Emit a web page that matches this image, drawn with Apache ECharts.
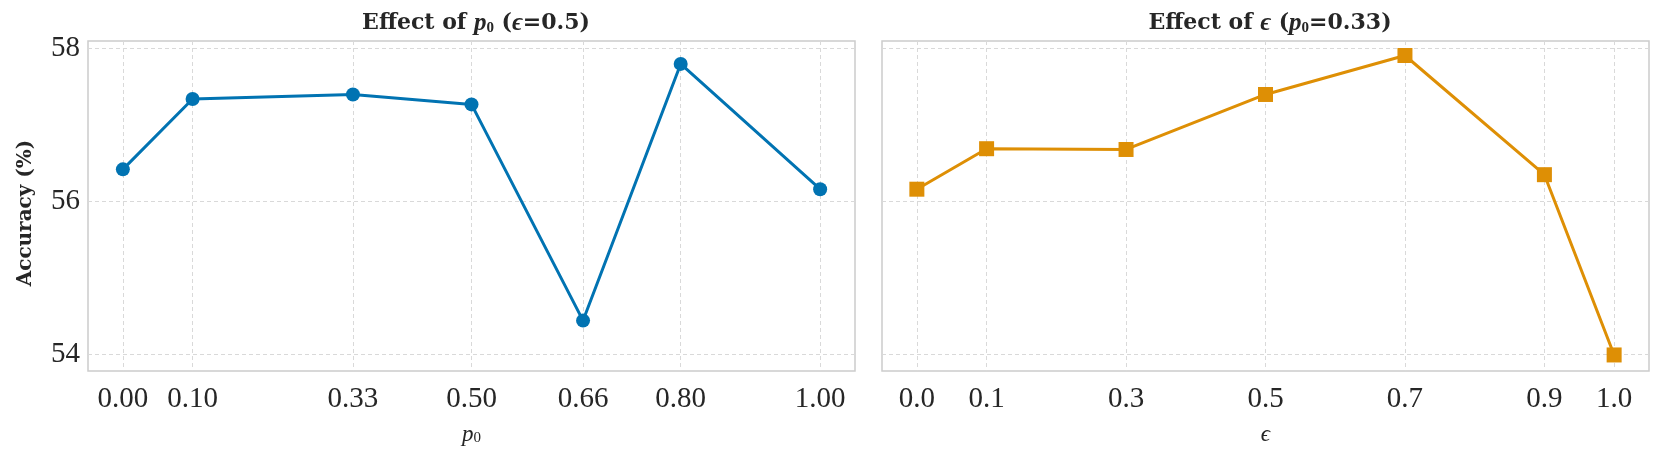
<!DOCTYPE html>
<html>
<head>
<meta charset="utf-8">
<script src="https://cdn.jsdelivr.net/npm/echarts@6/dist/echarts.min.js"></script>
<style>html,body{margin:0;padding:0;background:#fff}#c{width:1661px;height:453px}</style>
</head>
<body>
<div id="c"></div>
<script>
// ---- data ----
const p0Ticks = [0.00, 0.10, 0.33, 0.50, 0.66, 0.80, 1.00];
const p0Labels = ['0.00', '0.10', '0.33', '0.50', '0.66', '0.80', '1.00'];
const p0Acc = [56.42, 57.34, 57.40, 57.27, 54.44, 57.80, 56.16];

const epsTicks = [0.0, 0.1, 0.3, 0.5, 0.7, 0.9, 1.0];
const epsLabels = ['0.0', '0.1', '0.3', '0.5', '0.7', '0.9', '1.0'];
const epsAcc = [56.16, 56.69, 56.68, 57.40, 57.91, 56.35, 53.99];

const yTicks = [54, 56, 58];
const yLabels = ['54', '56', '58'];

// ---- styling ----
const FONT = '"Liberation Serif", "DejaVu Serif", serif';
const TFONT = '"DejaVu Serif", "Liberation Serif", serif';
const GRIDC = '#d9d9d9';
const SPINE = '#cccccc';
const BLUE = '#0173b2';
const ORANGE = '#de8f05';

function labelFor(ticks, labels) {
  return function (v) {
    for (let i = 0; i < ticks.length; i++) if (Math.abs(ticks[i] - v) < 1e-6) return labels[i];
    return '';
  };
}

function xAxisDef(idx, ticks, labels, nameRich) {
  return {
    type: 'value', gridIndex: idx, min: -0.05, max: 1.05,
    axisLine: { show: false },
    axisTick: { show: false, customValues: ticks },
    axisLabel: { customValues: ticks, formatter: labelFor(ticks, labels), fontFamily: FONT, fontSize: 29, color: '#262626', margin: 14 },
    splitLine: { show: true, lineStyle: { color: GRIDC, type: [4, 3], width: 1 } },
    name: nameRich, nameLocation: 'middle', nameGap: 52,
    nameTextStyle: { fontFamily: FONT, fontSize: 23, color: '#262626', rich: {
      i: { fontFamily: FONT, fontStyle: 'italic', fontSize: 23, color: '#262626' },
      s: { fontFamily: FONT, fontSize: 15, color: '#262626', verticalAlign: 'bottom', padding: [8, 0, 0, 0] }
    } }
  };
}

function yAxisDef(idx, showLabels) {
  return {
    type: 'value', gridIndex: idx, min: 53.78, max: 58.10,
    axisLine: { show: false },
    axisTick: { show: false, customValues: yTicks },
    axisLabel: { show: showLabels, customValues: yTicks, formatter: labelFor(yTicks, yLabels), fontFamily: FONT, fontSize: 29, color: '#262626', margin: 8 },
    splitLine: { show: true, lineStyle: { color: GRIDC, type: [4, 3], width: 1 } },
    name: showLabels ? 'Accuracy (%)' : '', nameLocation: 'middle', nameGap: 52, nameRotate: 90,
    nameTextStyle: { fontFamily: TFONT, fontSize: 20, fontWeight: 'bold', color: '#262626', padding: [0, 14, 0, 0] }
  };
}

const titleRich = {
  b: { fontFamily: TFONT, fontSize: 22, fontWeight: 'bold', color: '#262626' },
  n: { fontFamily: TFONT, fontSize: 22, color: '#262626' },
  i: { fontFamily: FONT, fontSize: 25, fontStyle: 'italic', color: '#262626' },
  s: { fontFamily: FONT, fontSize: 15, color: '#262626', padding: [9, 0, 0, 0] }
};

const chart = echarts.init(document.getElementById('c'), null, { renderer: 'canvas' });
chart.setOption({
  backgroundColor: '#ffffff',
  animation: false,
  title: [
    { text: '{b|Effect of }{i|p}{s|0}{n| (}{i|ϵ}{b|=0.5)}', left: 471, top: 6, textAlign: 'center',
      textStyle: { rich: titleRich } },
    { text: '{b|Effect of }{i|ϵ}{n| (}{i|p}{s|0}{b|=0.33)}', left: 1265, top: 6, textAlign: 'center',
      textStyle: { rich: titleRich } }
  ],
  grid: [
    { left: 88, right: 806, top: 41, bottom: 82, show: true, borderColor: SPINE, borderWidth: 1.5, containLabel: false },
    { left: 882, right: 12, top: 41, bottom: 82, show: true, borderColor: SPINE, borderWidth: 1.5, containLabel: false }
  ],
  xAxis: [
    xAxisDef(0, p0Ticks, p0Labels, '{i|p}{s|0}'),
    xAxisDef(1, epsTicks, epsLabels, '{i|ϵ}')
  ],
  yAxis: [yAxisDef(0, true), yAxisDef(1, false)],
  series: [
    { type: 'line', xAxisIndex: 0, yAxisIndex: 0,
      data: p0Ticks.map((x, i) => [x, p0Acc[i]]),
      symbol: 'circle', symbolSize: 14, showAllSymbol: true,
      lineStyle: { color: BLUE, width: 3 }, itemStyle: { color: BLUE } },
    { type: 'line', xAxisIndex: 1, yAxisIndex: 1,
      data: epsTicks.map((x, i) => [x, epsAcc[i]]),
      symbol: 'rect', symbolSize: 15, showAllSymbol: true,
      lineStyle: { color: ORANGE, width: 3 }, itemStyle: { color: ORANGE } }
  ]
});
</script>
</body>
</html>
